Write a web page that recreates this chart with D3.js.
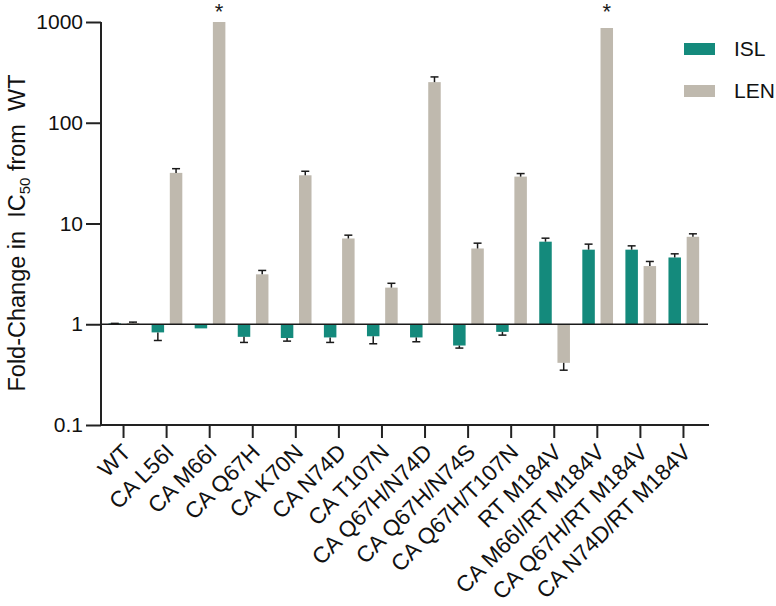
<!DOCTYPE html>
<html>
<head>
<meta charset="utf-8">
<script src="https://cdn.jsdelivr.net/npm/d3@7"></script>
<style>
  html, body { margin: 0; padding: 0; background: #fff; }
  svg { display: block; font-family: "Liberation Sans", Arial, Helvetica, sans-serif; }
</style>
</head>
<body>
<svg id="chart" width="776" height="606"></svg>
<script>
const categories = ["WT", "CA L56I", "CA M66I", "CA Q67H", "CA K70N", "CA N74D", "CA T107N",
  "CA Q67H/N74D", "CA Q67H/N74S", "CA Q67H/T107N", "RT M184V",
  "CA M66I/RT M184V", "CA Q67H/RT M184V", "CA N74D/RT M184V"];
const seriesNames = ["ISL", "LEN"];
const islValues = [1.02, 0.83, 0.91, 0.75, 0.73, 0.74, 0.76, 0.74, 0.615, 0.84, 6.6, 5.5, 5.5, 4.6];
const islErrEnd = [1.02, 0.69, null, 0.66, 0.68, 0.66, 0.64, 0.67, 0.58, 0.78, 7.15, 6.24, 6.0, 5.0];
const lenValues = [1.03, 31.8, 1000, 3.13, 30.1, 7.1, 2.31, 253, 5.65, 29.2, 0.414, 872, 3.78, 7.38];
const lenErrEnd = [1.05, 35, null, 3.42, 33, 7.66, 2.55, 285, 6.38, 31.3, 0.35, null, 4.2, 7.9];
const starred = ["CA M66I", "CA M66I/RT M184V"];
const yTicks = [0.1, 1, 10, 100, 1000];
const colors = { ISL: "#148a7c", LEN: "#bfb9ae" };

const svg = d3.select("#chart");
const x = d3.scaleBand().domain(categories).range([102, 705]).padding(0);
const y = d3.scaleLog().domain([0.1, 1000]).range([425, 22]);
const barW = 12.5;
const offsets = { ISL: -15, LEN: 3.2 };

const rows = [];
categories.forEach((c, i) => {
  rows.push({ cat: c, s: "ISL", v: islValues[i], e: islErrEnd[i] });
  rows.push({ cat: c, s: "LEN", v: lenValues[i], e: lenErrEnd[i] });
});
const cx = d => x(d.cat) + x.bandwidth() / 2;

// bars from baseline 1
svg.append("g").selectAll("rect").data(rows).join("rect")
  .attr("x", d => cx(d) + offsets[d.s])
  .attr("width", barW)
  .attr("y", d => Math.min(y(d.v), y(1)))
  .attr("height", d => Math.abs(y(d.v) - y(1)))
  .attr("fill", d => colors[d.s]);

// error bars (one-sided, away from baseline)
const eg = svg.append("g").attr("stroke", "#1a1a1a").attr("stroke-width", 1.5).attr("fill", "none");
rows.filter(d => d.e != null).forEach(d => {
  const mx = cx(d) + offsets[d.s] + barW / 2;
  eg.append("line").attr("x1", mx).attr("x2", mx).attr("y1", y(d.v)).attr("y2", y(d.e));
  eg.append("line").attr("x1", mx - 4).attr("x2", mx + 4).attr("y1", y(d.e)).attr("y2", y(d.e));
});

// baseline at 1
svg.append("line").attr("x1", 101).attr("x2", 708).attr("y1", y(1)).attr("y2", y(1))
  .attr("stroke", "#1a1a1a").attr("stroke-width", 1.5);

// asterisks
svg.append("g").selectAll("text").data(starred).join("text")
  .attr("x", c => x(c) + x.bandwidth() / 2 + offsets.LEN + barW / 2)
  .attr("y", 19)
  .attr("text-anchor", "middle")
  .attr("font-size", 22)
  .attr("fill", "#1a1a1a")
  .text("*");

// y axis
const yAxis = svg.append("g").attr("transform", "translate(101,0)")
  .call(d3.axisLeft(y).tickValues(yTicks).tickFormat(d3.format("~g")).tickSize(15).tickPadding(3));
yAxis.select(".domain").attr("d", `M0,${y(1000)}V${y(0.1)}`);
yAxis.selectAll("path, line").attr("stroke", "#222").attr("stroke-width", 2);
yAxis.selectAll("text").attr("font-size", 21).attr("fill", "#111")
  .attr("font-family", "'Liberation Sans', Arial, sans-serif");

// x axis
const xAxis = svg.append("g").attr("transform", `translate(0,${y(0.1)})`)
  .call(d3.axisBottom(x).tickSize(13).tickSizeOuter(0));
xAxis.select(".domain").attr("d", `M101,0H709`);
xAxis.selectAll("path, line").attr("stroke", "#222").attr("stroke-width", 2);
xAxis.selectAll("text")
  .attr("font-size", 22.5).attr("fill", "#111")
  .attr("font-family", "'Liberation Sans', Arial, sans-serif")
  .attr("text-anchor", "end")
  .attr("dy", "0.35em")
  .attr("transform", "translate(3,23) rotate(-45)")
  .attr("x", 0).attr("y", 0);

// y title
const title = svg.append("text")
  .attr("transform", `translate(25,233) rotate(-90)`)
  .attr("text-anchor", "middle")
  .attr("font-size", 23.5).attr("fill", "#111")
  .style("white-space", "pre");
title.append("tspan").text("Fold-Change in  IC");
title.append("tspan").attr("font-size", 15).attr("dy", 5).text("50");
title.append("tspan").attr("dy", -5).text(" from  WT");

// legend
const leg = svg.append("g").selectAll("g").data(seriesNames).join("g")
  .attr("transform", (d, i) => `translate(684,${43 + i * 42})`);
leg.append("rect").attr("width", 31).attr("height", 12).attr("fill", d => colors[d]);
leg.append("text").attr("x", 50).attr("y", 6).attr("dy", "0.35em")
  .attr("font-size", 21).attr("fill", "#111").text(d => d);
</script>
</body>
</html>
